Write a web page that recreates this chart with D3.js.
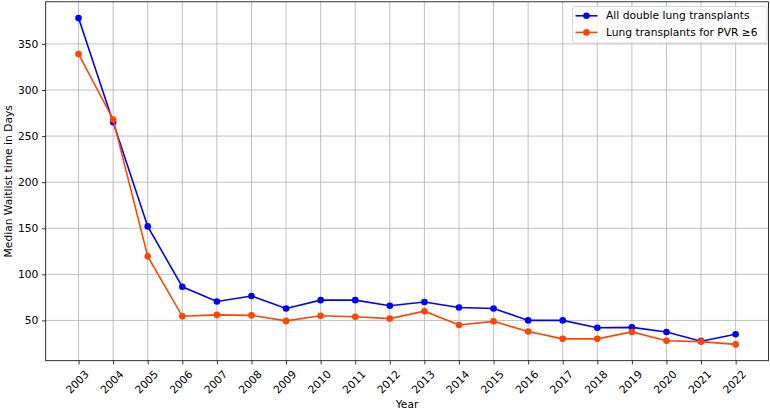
<!DOCTYPE html>
<html>
<head>
<meta charset="utf-8">
<script src="https://cdn.jsdelivr.net/npm/d3@7"></script>
<style>
  html, body { margin: 0; padding: 0; background: #fff; }
  svg { display: block; font-family: "DejaVu Sans", sans-serif; }
</style>
</head>
<body>
<svg id="chart" width="770" height="410"></svg>
<script>
const years = [2003,2004,2005,2006,2007,2008,2009,2010,2011,2012,2013,2014,2015,2016,2017,2018,2019,2020,2021,2022];
const allDouble = [378,265,152,86.5,70.5,76.5,63,72,72,66,70,64,63,50,50,42,42.5,37.5,27.5,35];
const pvr6 = [339,268,119.5,54.5,56,55.5,49.5,55,54,52,60,45,49,38,30,30,37.5,28,27,24];
const yTicks = [50,100,150,200,250,300,350];
const seriesNames = ["All double lung transplants", "Lung transplants for PVR \u22656"];
const seriesColors = ["#0000ff", "#ff4500"];

const W = 770, H = 410;
const m = {left: 45.7, right: 768.5, top: 1.8, bottom: 360.7};
const svg = d3.select("#chart");

// matplotlib-like 5% margins
const xPad = (d3.max(years) - d3.min(years)) * 0.05;
const x = d3.scaleLinear().domain([d3.min(years) - xPad, d3.max(years) + xPad]).range([m.left, m.right]);
const allVals = allDouble.concat(pvr6);
const yMin = d3.min(allVals), yMax = d3.max(allVals);
const yPad = (yMax - yMin) * 0.05;
const y = d3.scaleLinear().domain([yMin - yPad, yMax + yPad]).range([m.bottom, m.top]);

// grid
const grid = svg.append("g");
grid.selectAll("line.gx").data(years).enter().append("line")
  .attr("x1", d => x(d)).attr("x2", d => x(d))
  .attr("y1", m.top).attr("y2", m.bottom)
  .attr("stroke", "#b0b0b0").attr("stroke-width", 0.8);
grid.selectAll("line.gy").data(yTicks).enter().append("line")
  .attr("x1", m.left).attr("x2", m.right)
  .attr("y1", d => y(d)).attr("y2", d => y(d))
  .attr("stroke", "#b0b0b0").attr("stroke-width", 0.8);

// axes
const xAxis = d3.axisBottom(x).tickValues(years).tickFormat(d3.format("d")).tickSize(3.7).tickPadding(3.7);
const gx = svg.append("g").attr("transform", `translate(0,${m.bottom})`).call(xAxis);
gx.select(".domain").remove();
gx.selectAll(".tick line").attr("stroke", "#000").attr("stroke-width", 0.8);
gx.selectAll(".tick text")
  .attr("font-size", "10.7px").attr("font-family", "DejaVu Sans").attr("fill", "#000")
  .attr("text-anchor", "middle").attr("dy", null).attr("y", null)
  .attr("dominant-baseline", "central")
  .attr("transform", "translate(-1.5,21.5) rotate(-45)");

const yAxis = d3.axisLeft(y).tickValues(yTicks).tickSize(3.7).tickPadding(3.7);
const gy = svg.append("g").attr("transform", `translate(${m.left},0)`).call(yAxis);
gy.select(".domain").remove();
gy.selectAll(".tick line").attr("stroke", "#000").attr("stroke-width", 0.8);
gy.selectAll(".tick text").attr("font-size", "10.7px").attr("font-family", "DejaVu Sans").attr("fill", "#000");

// spines
svg.append("rect").attr("x", m.left).attr("y", m.top)
  .attr("width", m.right - m.left).attr("height", m.bottom - m.top)
  .attr("fill", "none").attr("stroke", "#000").attr("stroke-width", 0.8);

// series
const series = [allDouble, pvr6];
const line = d3.line().x((d, i) => x(years[i])).y(d => y(d));
series.forEach((vals, si) => {
  const g = svg.append("g");
  g.append("path").datum(vals).attr("d", line)
    .attr("fill", "none").attr("stroke", seriesColors[si]).attr("stroke-width", 1.6);
  g.selectAll("circle").data(vals).enter().append("circle")
    .attr("cx", (d, i) => x(years[i])).attr("cy", d => y(d)).attr("r", 3.3)
    .attr("fill", seriesColors[si]);
});

// axis labels
svg.append("text").attr("x", (m.left + m.right) / 2).attr("y", 404)
  .attr("text-anchor", "middle").attr("dominant-baseline", "central")
  .attr("font-size", "10.7px").text("Year");
svg.append("text").attr("transform", `translate(8,${(m.top + m.bottom) / 2}) rotate(-90)`)
  .attr("text-anchor", "middle").attr("dominant-baseline", "central")
  .attr("font-size", "10.7px").text("Median Waitlist time in Days");

// legend
const lg = svg.append("g");
lg.append("rect").attr("x", 572.5).attr("y", 6.5).attr("width", 194.5).attr("height", 36.5)
  .attr("rx", 2.5).attr("fill", "#fff").attr("fill-opacity", 0.8)
  .attr("stroke", "#cccccc").attr("stroke-width", 0.8);
seriesNames.forEach((name, i) => {
  const yy = 15.8 + i * 16.6;
  lg.append("line").attr("x1", 575.5).attr("x2", 597.5).attr("y1", yy).attr("y2", yy)
    .attr("stroke", seriesColors[i]).attr("stroke-width", 1.6);
  lg.append("circle").attr("cx", 586.5).attr("cy", yy).attr("r", 3.3).attr("fill", seriesColors[i]);
  lg.append("text").attr("x", 606).attr("y", yy).attr("dominant-baseline", "central")
    .attr("font-size", "10.7px").text(name);
});
</script>
</body>
</html>
